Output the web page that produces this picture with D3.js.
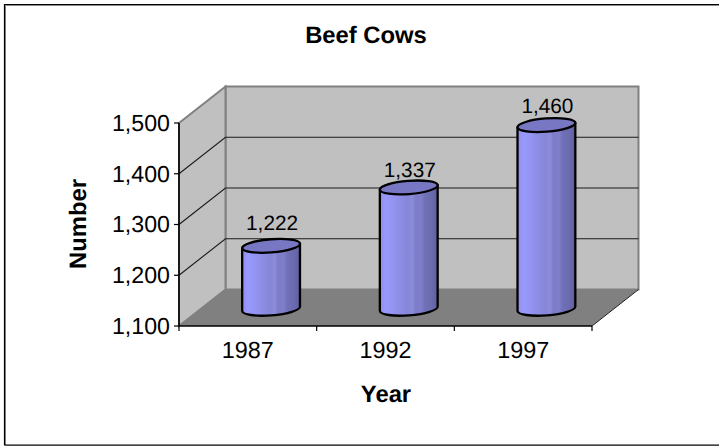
<!DOCTYPE html>
<html><head><meta charset="utf-8">
<script src="https://cdn.jsdelivr.net/npm/d3@7"></script>
<style>html,body{margin:0;padding:0;background:#fff;overflow:hidden}svg{display:block}text{font-family:"Liberation Sans",Arial,sans-serif;fill:#000;text-rendering:geometricPrecision}</style>
</head><body><div id="chart"></div>
<script>
const categories = ["1987","1992","1997"];
const values = [1222,1337,1460];
const valueTicks = [1100,1200,1300,1400,1500];
const chartTitle = "Beef Cows", xTitle = "Year", yTitle = "Number";
const W=719,H=447;
const svg=d3.select("#chart").append("svg").attr("width",W).attr("height",H);
const x=d3.scaleBand().domain(categories).range([179,592]);
const y=d3.scaleLinear().domain([1100,1500]).range([326,123]);
const dx=46.5, dy=-36.5;
const X0=x.range()[0],X1=x.range()[1],Y0=y(1100),Y1=y(1500);
// outer frame: open on the right, as cropped in the picture
svg.append("path").attr("d",`M${W},5.5H5.5V445.5H${W}`).attr("fill","none").attr("stroke","#8a8a8a").attr("stroke-width",1);
svg.append("path").attr("d",`M${W},4.5H4.5V445H${W}`).attr("fill","none").attr("stroke","#000").attr("stroke-width",1.2);
const poly=(pts,fill,stroke,sw)=>svg.append("polygon").attr("points",pts.map(p=>p.join(",")).join(" ")).attr("fill",fill).attr("stroke",stroke||"none").attr("stroke-width",sw||0);
poly([[X0+dx,Y1+dy],[X1+dx,Y1+dy],[X1+dx,Y0+dy],[X0+dx,Y0+dy]],"#c0c0c0","#808080",2);
poly([[X0,Y1],[X0+dx,Y1+dy],[X0+dx,Y0+dy],[X0,Y0]],"#c0c0c0","#808080",2);
poly([[X0,Y0],[X0+dx,Y0+dy],[X1+dx,Y0+dy],[X1,Y0]],"#808080");
svg.append("line").attr("x1",X1).attr("y1",Y0).attr("x2",X1+dx).attr("y2",Y0+dy).attr("stroke","#222").attr("stroke-width",1);
valueTicks.slice(1,-1).forEach(v=>{
  svg.append("path").attr("d",`M${X0},${y(v)}L${X0+dx},${y(v)+dy}L${X1+dx},${y(v)+dy}`).attr("fill","none").attr("stroke","#1a1a1a").attr("stroke-width",1.1);
});
// cylinder shading
const g=svg.append("defs").append("linearGradient").attr("id","cyl");
[[0,"#8f8fe6"],[.1,"#9999ff"],[.3,"#9090ea"],[.48,"#8686d8"],[.56,"#8c8cdc"],[.62,"#7c7cc8"],[.72,"#7e7ecb"],[.78,"#7070b8"],[.9,"#6a6aae"],[1,"#5e5e9e"]]
  .forEach(s=>g.append("stop").attr("offset",s[0]).attr("stop-color",s[1]));
const rx=29, tilt=-4.5, ry=6.6;
const tx=Math.cos(tilt*Math.PI/180)*rx, ty=Math.sin(tilt*Math.PI/180)*rx;
const labelGap=[15.6,10.8,11.6];   // gap from cylinder top to its label baseline
categories.forEach((c,i)=>{
  const cx=x(c)+x.bandwidth()/2+dx/2;
  const yb=Y0+dy/2+1, yt=y(values[i])+dy/2;
  svg.append("path")
    .attr("d",`M${cx-tx},${yt-ty}L${cx-tx},${yb-ty}A${rx},${ry} ${tilt} 0 0 ${cx+tx},${yb+ty}L${cx+tx},${yt+ty}Z`)
    .attr("fill","url(#cyl)").attr("stroke","#000").attr("stroke-width",2.3).attr("stroke-linejoin","round");
  svg.append("ellipse").attr("cx",cx).attr("cy",yt).attr("rx",rx).attr("ry",ry)
    .attr("transform",`rotate(${tilt} ${cx} ${yt})`).attr("fill","#7777c4").attr("stroke","#000").attr("stroke-width",2.3);
  svg.append("text").attr("x",cx+1).attr("y",yt-labelGap[i]).attr("text-anchor","middle").attr("font-size",20.8).text(d3.format(",")(values[i]));
});
// axes
const ax=svg.append("g").attr("stroke","#000").attr("stroke-width",1.2);
ax.append("line").attr("x1",X0).attr("x2",X1).attr("y1",Y0).attr("y2",Y0).attr("stroke-width",1.6);
ax.append("line").attr("x1",X0).attr("x2",X0).attr("y1",Y1).attr("y2",Y0).attr("stroke-width",1.6);
valueTicks.forEach(v=>{
  ax.append("line").attr("x1",X0-5).attr("x2",X0).attr("y1",y(v)).attr("y2",y(v));
  svg.append("text").attr("x",170).attr("y",y(v)+7.8).attr("text-anchor","end").attr("font-size",23.2).text(d3.format(",")(v));
});
[...categories.map(c=>x(c)),X1].forEach(t=>ax.append("line").attr("x1",t).attr("x2",t).attr("y1",Y0).attr("y2",Y0+5));
categories.forEach(c=>svg.append("text").attr("x",x(c)+x.bandwidth()/2).attr("y",358.3).attr("text-anchor","middle").attr("font-size",23.4).text(c));
svg.append("text").attr("x",366).attr("y",42.6).attr("text-anchor","middle").attr("font-size",23.8).attr("font-weight","bold").text(chartTitle);
svg.append("text").attr("x",386).attr("y",402.3).attr("text-anchor","middle").attr("font-size",23.8).attr("font-weight","bold").text(xTitle);
svg.append("text").attr("transform","translate(85.5,224) rotate(-90)").attr("text-anchor","middle").attr("font-size",23.8).attr("font-weight","bold").text(yTitle);
</script></body></html>
